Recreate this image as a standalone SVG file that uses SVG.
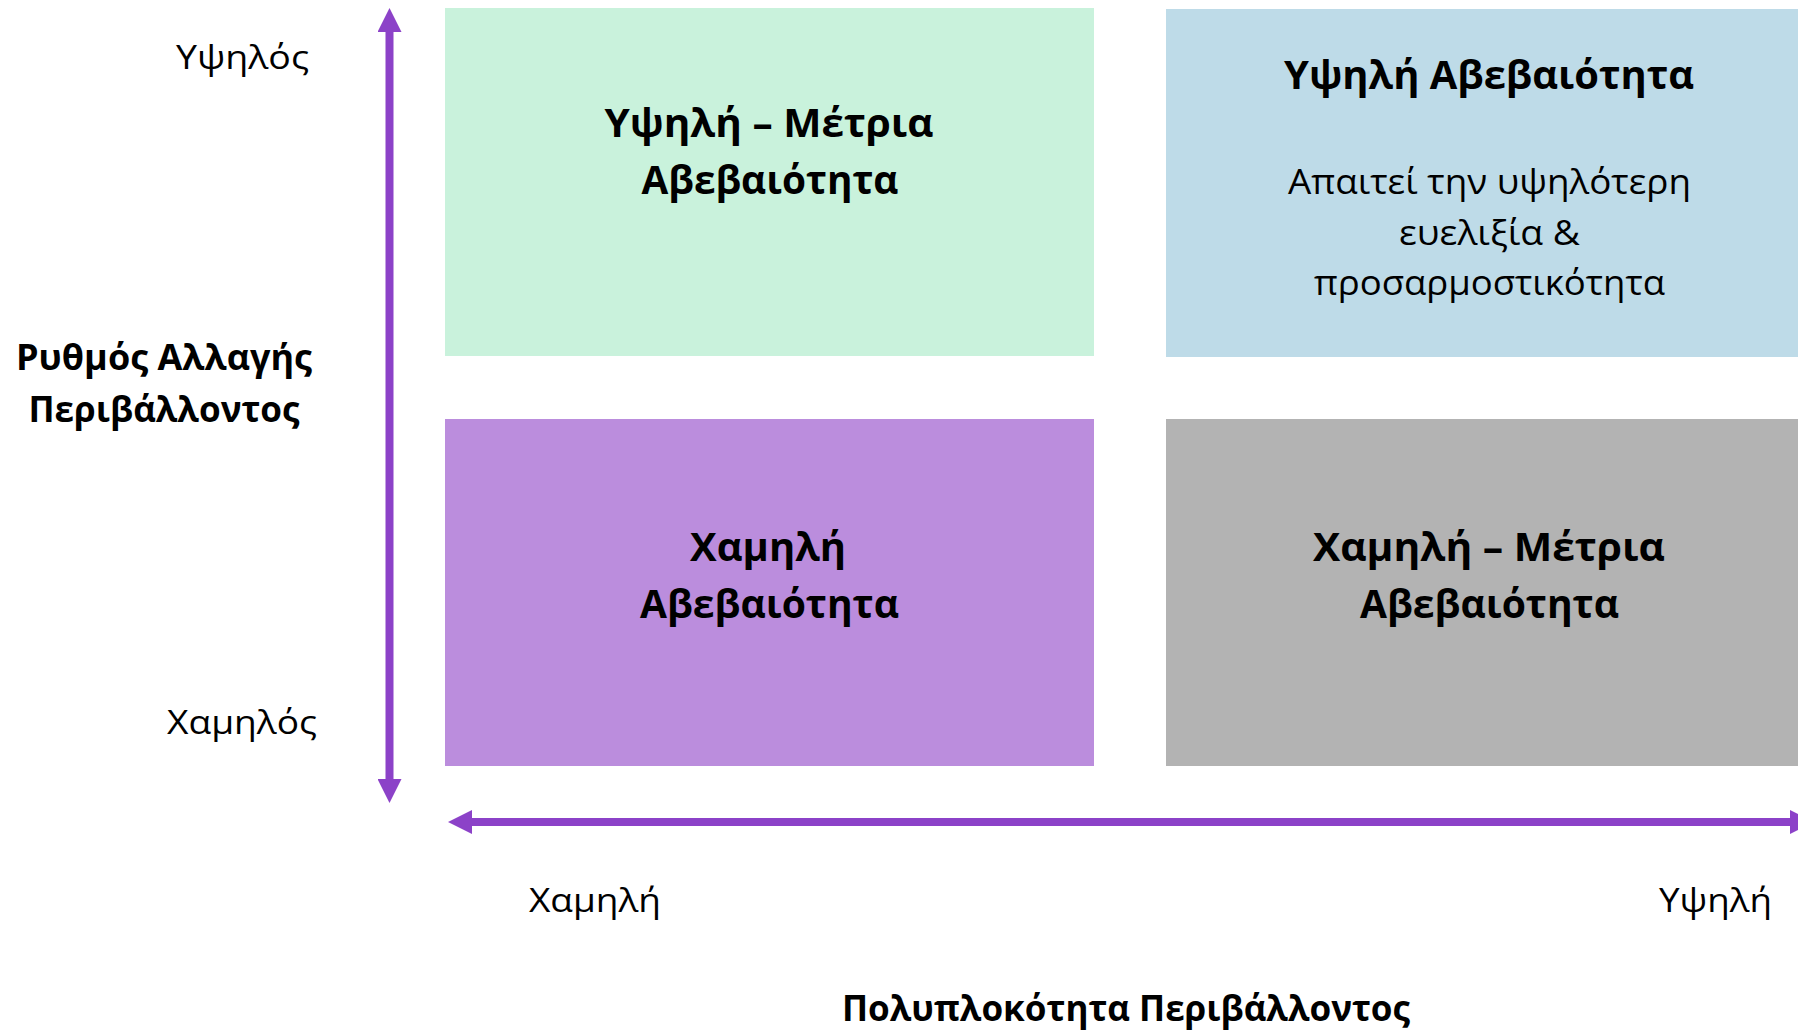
<svg xmlns="http://www.w3.org/2000/svg" width="1798" height="1030" viewBox="0 0 1798 1030">
<style>
text{font-family:"Open Sans","Noto Sans","DejaVu Sans",sans-serif;fill:#000;text-anchor:middle}
.tb{font-weight:bold;font-size:39px}
.ab{font-weight:bold;font-size:36px}
.bd{font-size:35px}
.lb{font-size:32px}
.ax{stroke:#8C42C8;stroke-width:8;fill:none;marker-start:url(#ah);marker-end:url(#ah)}
</style>
<defs>
<marker id="ah" viewBox="0 0 24 24" refX="0" refY="12" markerWidth="24" markerHeight="24" markerUnits="userSpaceOnUse" orient="auto-start-reverse">
<path d="M0,0 L24,12 L0,24 Z" fill="#8C42C8"/>
</marker>
</defs>
<rect width="1798" height="1030" fill="#fff"/>
<g id="q-high-mid">
<rect x="445" y="8" width="649" height="348" fill="#C9F2DC"/>
<text class="tb" x="769" y="137" textLength="329" lengthAdjust="spacingAndGlyphs">Υψηλή – Μέτρια</text>
<text class="tb" x="770" y="194" textLength="257" lengthAdjust="spacingAndGlyphs">Αβεβαιότητα</text>
</g>
<g id="q-high">
<rect x="1166" y="9" width="646" height="348" fill="#BEDBE8"/>
<text class="tb" x="1489" y="89" textLength="410" lengthAdjust="spacingAndGlyphs">Υψηλή Αβεβαιότητα</text>
<text class="bd" x="1489.5" y="194" textLength="403" lengthAdjust="spacingAndGlyphs">Απαιτεί την υψηλότερη</text>
<text class="bd" x="1489.5" y="245" textLength="181" lengthAdjust="spacingAndGlyphs">ευελιξία &amp;</text>
<text class="bd" x="1489.5" y="295" textLength="351" lengthAdjust="spacingAndGlyphs">προσαρμοστικότητα</text>
</g>
<g id="q-low">
<rect x="445" y="419" width="649" height="347" fill="#BB8DDD"/>
<text class="tb" x="768" y="561" textLength="156" lengthAdjust="spacingAndGlyphs">Χαμηλή</text>
<text class="tb" x="769.5" y="618" textLength="259" lengthAdjust="spacingAndGlyphs">Αβεβαιότητα</text>
</g>
<g id="q-low-mid">
<rect x="1166" y="419" width="646" height="347" fill="#B3B3B3"/>
<text class="tb" x="1489" y="561" textLength="352" lengthAdjust="spacingAndGlyphs">Χαμηλή – Μέτρια</text>
<text class="tb" x="1489.5" y="618" textLength="259" lengthAdjust="spacingAndGlyphs">Αβεβαιότητα</text>
</g>
<g id="axes">
<line class="ax" x1="389.5" y1="32" x2="389.5" y2="779"/>
<line class="ax" x1="472" y1="822" x2="1790" y2="822"/>
</g>
<g id="labels">
<text class="lb" x="242.5" y="69" textLength="133" lengthAdjust="spacingAndGlyphs">Υψηλός</text>
<text class="lb" x="242" y="734" textLength="150" lengthAdjust="spacingAndGlyphs">Χαμηλός</text>
<text class="ab" x="164" y="370" textLength="296" lengthAdjust="spacingAndGlyphs">Ρυθμός Αλλαγής</text>
<text class="ab" x="164" y="422" textLength="271" lengthAdjust="spacingAndGlyphs">Περιβάλλοντος</text>
<text class="lb" x="595" y="912" textLength="132" lengthAdjust="spacingAndGlyphs">Χαμηλή</text>
<text class="lb" x="1715.5" y="912" textLength="113" lengthAdjust="spacingAndGlyphs">Υψηλή</text>
<text class="ab" x="1126" y="1021" textLength="568" lengthAdjust="spacingAndGlyphs">Πολυπλοκότητα Περιβάλλοντος</text>
</g>
</svg>
